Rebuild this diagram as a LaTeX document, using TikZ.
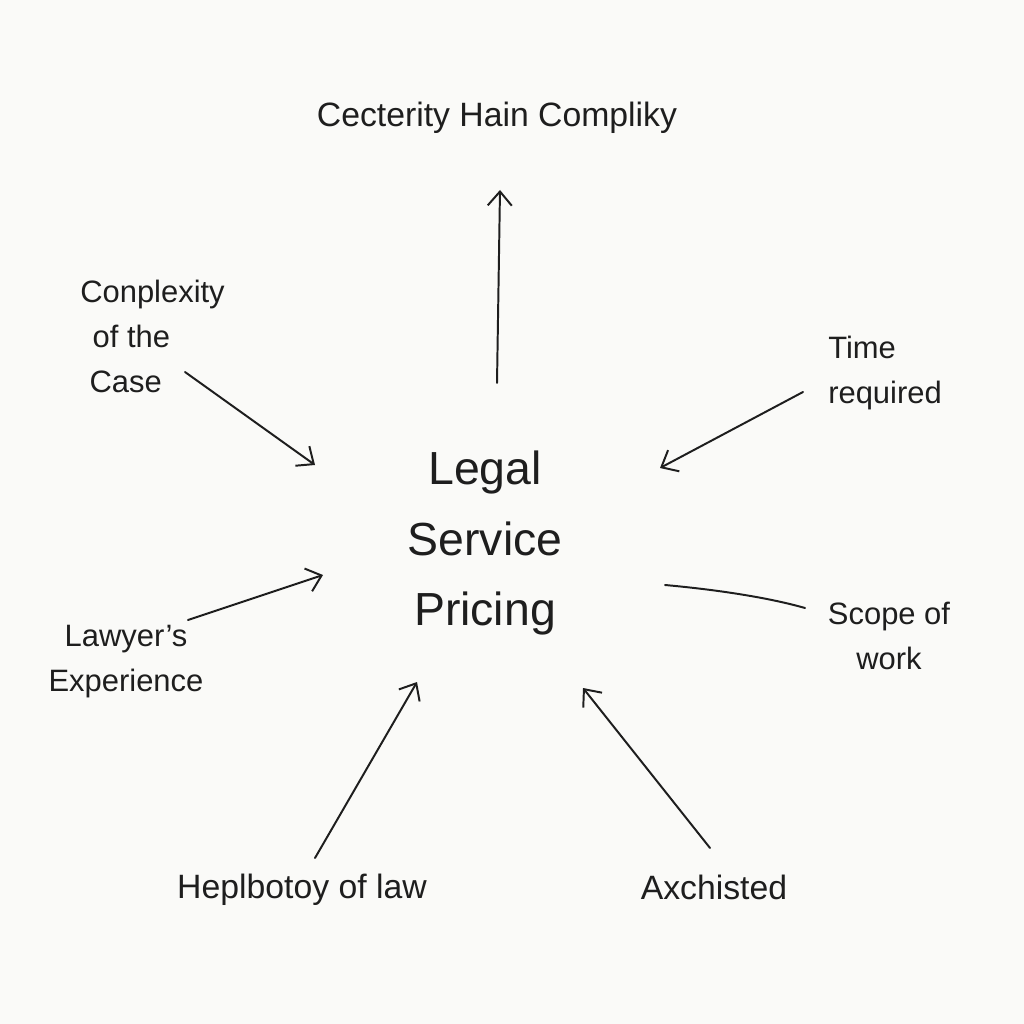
\documentclass[tikz,border=0pt]{standalone}
\usepackage{fontspec}
\setmainfont{Liberation Sans}
\usetikzlibrary{arrows.meta}
\definecolor{bg}{HTML}{FAFAF8}
\definecolor{ink}{HTML}{1E1E1E}
\tikzset{
  lbl/.style={font=\fontsize{22}{32}\selectfont, text=ink, inner sep=0pt},
  big/.style={font=\fontsize{33}{50}\selectfont, text=ink, inner sep=0pt, align=center},
  conn/.style={draw=ink, line width=1.4pt, line cap=round},
  arr/.style={conn, -{Straight Barb[length=3.5mm,width=6mm,line width=1.4pt]}}
}
\begin{document}
\begin{tikzpicture}[x=0.025cm,y=-0.025cm]
\fill[bg] (0,0) rectangle (1024,1024);
\useasboundingbox (0,0) rectangle (1024,1024);
% centre
\node[big] (center) at (485,543) {Legal\\Service\\Pricing};
% labels
\node[lbl, font=\fontsize{24}{32}\selectfont] (top) at (497,118) {Cecterity Hain Compliky};
\node[lbl, anchor=west, align=left] (cx) at (80,336) {Conplexity\\\hspace{0.4em}of the\\\hspace{0.3em}Case};
\node[lbl, anchor=west, align=left] (time) at (828,373) {Time\\required};
\node[lbl, align=center] (scope) at (889,636) {Scope of\\work};
\node[lbl, align=center] (lawyer) at (126,662) {Lawyer's\\Experience};
\node[lbl, font=\fontsize{24}{32}\selectfont] (hist) at (302,890) {Heplbotoy of law};
\node[lbl, font=\fontsize{24}{32}\selectfont] (ax) at (714,887) {Axchisted};
% connector ends
\coordinate (t1) at (497,383); \coordinate (t2) at (500,190);
\coordinate (c1) at (185,372); \coordinate (c2) at (315,465);
\coordinate (r1) at (803,392); \coordinate (r2) at (660,468);
\coordinate (s1) at (665,585); \coordinate (s2) at (805,608);
\coordinate (l1) at (188,620); \coordinate (l2) at (323,575);
\coordinate (h1) at (315,858); \coordinate (h2) at (417,682);
\coordinate (a1) at (710,848); \coordinate (a2) at (583,688);
% connectors
\draw[arr] (t1) -- (t2);
\draw[arr] (c1) -- (c2);
\draw[arr] (r1) -- (r2);
\draw[conn] (s1) .. controls (720,590) and (770,598) .. (s2);
\draw[arr] (l1) -- (l2);
\draw[arr] (h1) -- (h2);
\draw[arr] (a1) -- (a2);
\end{tikzpicture}
\end{document}
